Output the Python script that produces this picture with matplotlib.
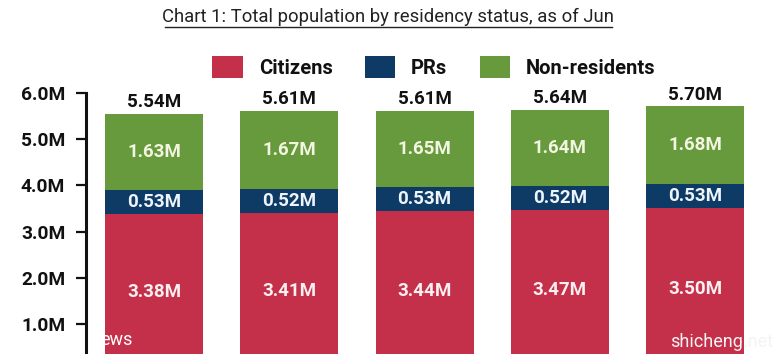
import matplotlib.pyplot as plt
from matplotlib.patches import Patch
from matplotlib.lines import Line2D

plt.rcParams['font.family'] = ['Roboto', 'DejaVu Sans']

# data
years = ["2015", "2016", "2017", "2018", "2019"]
citizens = [3.38, 3.41, 3.44, 3.47, 3.50]
prs = [0.53, 0.52, 0.53, 0.52, 0.53]
non_res = [1.63, 1.67, 1.65, 1.64, 1.68]
totals = [5.54, 5.61, 5.61, 5.64, 5.70]
series_names = ["Citizens", "PRs", "Non-residents"]
yticks = [1.0, 2.0, 3.0, 4.0, 5.0, 6.0]

colors = ["#C4304A", "#0D3B66", "#67993D"]

fig = plt.figure(figsize=(7.79, 3.54), dpi=100)
# axis runs below the bottom of the picture (chart is cropped)
ax = fig.add_axes([86 / 779, 0, 1 - 86 / 779, (354 - 93) / 354])

x = list(range(len(years)))
w = 0.725
ax.bar(x, citizens, w, color=colors[0])
ax.bar(x, prs, w, bottom=citizens, color=colors[1])
bottom2 = [c + p for c, p in zip(citizens, prs)]
ax.bar(x, non_res, w, bottom=bottom2, color=colors[2])

lab = dict(ha="center", va="center", fontsize=13.5, fontweight="bold")
for i in x:
    ax.text(i, citizens[i] / 2, f"{citizens[i]:.2f}M", color="#FBEFF1", **lab)
    ax.text(i, citizens[i] + prs[i] / 2, f"{prs[i]:.2f}M", color="#EEF4FA", **lab)
    ax.text(i, bottom2[i] + non_res[i] / 2, f"{non_res[i]:.2f}M", color="#F2F5E0", **lab)
    ax.text(i, totals[i] + 0.06, f"{totals[i]:.2f}M", ha="center", va="bottom",
            color="#111111", fontsize=13.5, fontweight="bold")

ax.set_ylim(0.35, 6.0)
ax.set_xlim(-0.504, 4.62)
ax.set_yticks(yticks)
ax.set_yticklabels([f"{v:.1f}M" for v in yticks], fontsize=13.8, fontweight="bold", color="#111111")
ax.set_xticks([])
for s in ["top", "right", "bottom"]:
    ax.spines[s].set_visible(False)
ax.spines["left"].set_linewidth(2.2)
ax.spines["left"].set_color("#111111")
ax.tick_params(axis="y", length=7, width=1.6, pad=8, color="#111111")

# watermarks
ax.text(0.02, 0.035, "ews", transform=ax.transAxes, color="white", fontsize=13)
fig.text(670 / 779, 0.02, "shicheng.net", color="#F4F4F4", fontsize=13)

# title with underline
fig.text(0.498, 0.952, "Chart 1: Total population by residency status, as of Jun",
         ha="center", va="center", fontsize=13.3, color="#222222")
fig.add_artist(Line2D([165 / 779, 612 / 779], [1 - 27 / 354, 1 - 27 / 354],
                      color="#222222", linewidth=1.0))

handles = [Patch(facecolor=c, edgecolor="none") for c in colors]
leg = fig.legend(handles, series_names, loc="center", bbox_to_anchor=(434 / 779, 1 - 67 / 354),
                 ncol=3, frameon=False, handlelength=1.5, handleheight=1.35,
                 handletextpad=0.8, columnspacing=1.6, prop={"weight": "bold", "size": 14.5})
for txt in leg.get_texts():
    txt.set_color("#111111")

fig.savefig("out.png", dpi=100)
